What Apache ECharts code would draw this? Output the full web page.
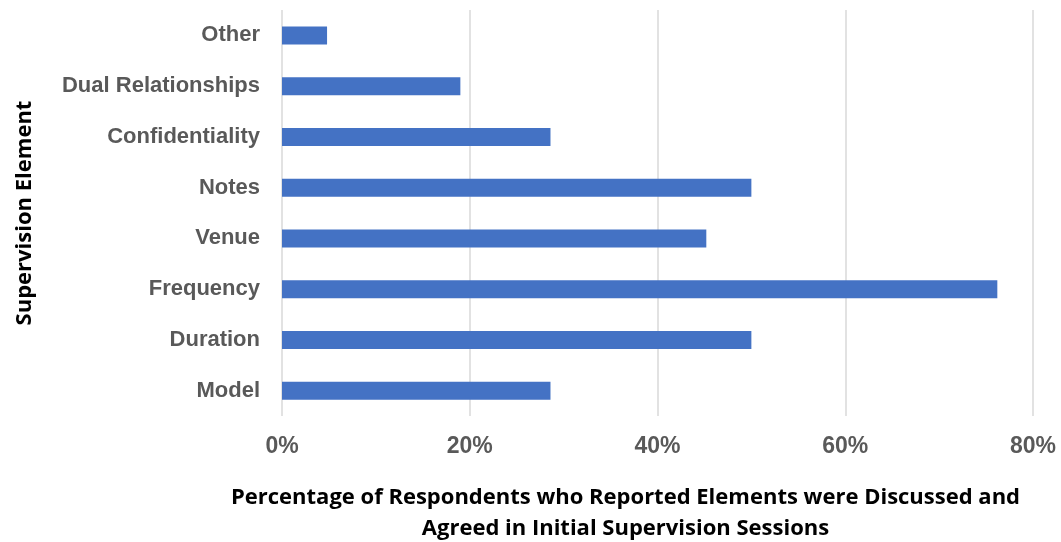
<!DOCTYPE html>
<html>
<head>
<meta charset="utf-8">
<script src="https://cdn.jsdelivr.net/npm/echarts@6/dist/echarts.min.js"></script>
<style>html,body{margin:0;padding:0;background:#fff}#c{width:1061px;height:542px}</style>
</head>
<body>
<div id="c"></div>
<script>
const categories = ["Model","Duration","Frequency","Venue","Notes","Confidentiality","Dual Relationships","Other"];
const values = [28.6, 50.0, 76.2, 45.2, 50.0, 28.6, 19.0, 4.8];
const xTicks = [0, 20, 40, 60, 80];
const xTitle = "Percentage of Respondents who Reported Elements were Discussed and\nAgreed in Initial Supervision Sessions";
const yTitle = "Supervision Element";

const chart = echarts.init(document.getElementById('c'), null, {renderer:'canvas'});
chart.setOption({
  animation:false,
  grid:{left:282, right:28, top:10, bottom:126, containLabel:false, outerBoundsMode:'none'},
  xAxis:{
    type:'value', min:xTicks[0], max:xTicks[xTicks.length-1], interval:20,
    axisLine:{show:false}, axisTick:{show:false},
    splitLine:{lineStyle:{color:'#d9d9d9', width:1.5}},
    axisLabel:{formatter:v=>v+'%', color:'#595959', fontFamily:'Liberation Sans', fontWeight:'bold', fontSize:23, margin:19, hideOverlap:false},
    name:xTitle, nameLocation:'middle', nameGap:66,
    nameTextStyle:{color:'#000', fontFamily:'Open Sans', fontWeight:'bold', fontSize:22, lineHeight:31, padding:[0,64,0,0]}
  },
  yAxis:{
    type:'category', data:categories,
    axisLine:{show:false}, axisTick:{show:false},
    axisLabel:{color:'#595959', fontFamily:'Liberation Sans', fontWeight:'bold', fontSize:22, margin:22, interval:0},
    name:yTitle, nameLocation:'middle', nameGap:246, nameRotate:90,
    nameTextStyle:{color:'#000', fontFamily:'Open Sans', fontWeight:'bold', fontSize:22}
  },
  series:[{
    type:'bar', data:values, barWidth:18,
    itemStyle:{color:'#4472c4'}
  }]
});
</script>
</body>
</html>
